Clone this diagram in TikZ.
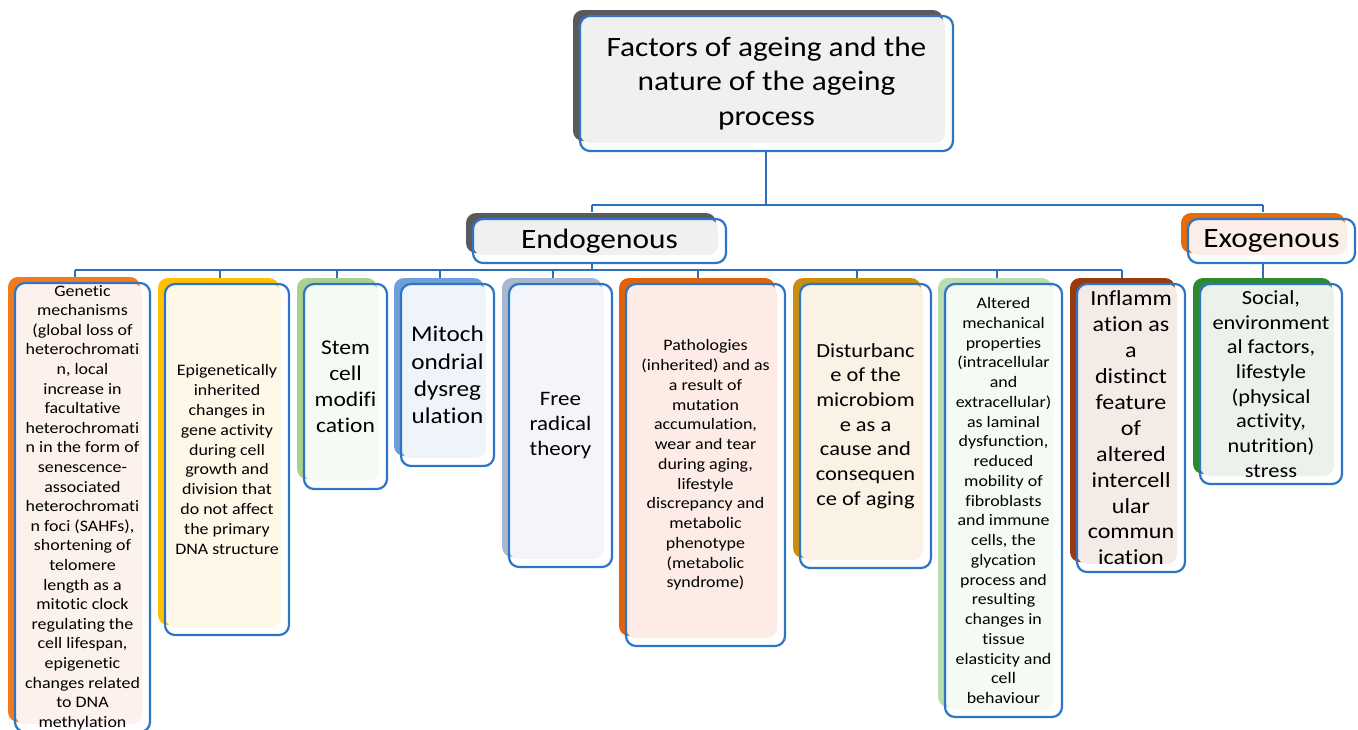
\documentclass[tikz,border=0pt]{standalone}
\usepackage{fontspec}
\setmainfont{Carlito}[FakeStretch=1.12, Ligatures=NoCommon]
\definecolor{bl}{RGB}{46,117,198}
\definecolor{ln}{RGB}{46,111,186}
\definecolor{tS}{HTML}{5A5A5A}\definecolor{tF}{HTML}{F0F0F0}
\definecolor{exS}{HTML}{E46C0A}\definecolor{exF}{HTML}{FCEEE7}
\definecolor{geS}{HTML}{F47A20}\definecolor{geF}{HTML}{FDF1EB}
\definecolor{epS}{HTML}{FFC000}\definecolor{epF}{HTML}{FFF8E8}
\definecolor{stS}{HTML}{A9D18E}\definecolor{stF}{HTML}{F6FAF4}
\definecolor{miS}{HTML}{6F9FD8}\definecolor{miF}{HTML}{EFF3FA}
\definecolor{frS}{HTML}{A9B8CE}\definecolor{frF}{HTML}{F3F5FA}
\definecolor{paS}{HTML}{E2620A}\definecolor{paF}{HTML}{FCECE5}
\definecolor{diS}{HTML}{C98E0B}\definecolor{diF}{HTML}{FBF2E6}
\definecolor{alS}{HTML}{B7DDB1}\definecolor{alF}{HTML}{F5FAF4}
\definecolor{inS}{HTML}{9A3A0C}\definecolor{inF}{HTML}{F5EBE6}
\definecolor{soS}{HTML}{2F8A2F}\definecolor{soF}{HTML}{EDF1EB}
\tikzset{
  boxborder/.style={draw=bl, line width=2.2pt, rounded corners=10pt, inner sep=0pt, align=center, text=black},
  conn/.style={draw=ln, line width=2pt},
}
\newcommand\mybox[9]{%
  \fill[#6, rounded corners=10pt] (#2-7,#3-6) rectangle (#4-10,#5-10);
  \fill[#7, rounded corners=10pt] (#2,#3) rectangle (#4-8,#5-8);
  \node[boxborder, minimum width=#4-#2, minimum height=#5-#3, font=#8] (#1) at ({(#2+#4)/2},{(#3+#5)/2}) {#9};
}
\newcommand\fs[2]{\fontsize{#1}{#2}\selectfont}
\begin{document}
\begin{tikzpicture}[x=1pt,y=-1pt]
\useasboundingbox (0,0) rectangle (1358,729);
% connectors
\coordinate (busTopL) at (592,205);
\coordinate (busTopR) at (1263,205);
\coordinate (endoIn) at (592,212);
\coordinate (exoIn) at (1263,212);
\coordinate (busL) at (75,270);
\coordinate (busR) at (1122,270);
\foreach \n/\x in {c1/75,c2/220,c3/337,c4/440,c5/553,c6/698,c7/857,c8/997,c9/1122}{
  \coordinate (\n) at (\x,279);
  \coordinate (\n b) at (\x,270);
}
\coordinate (c10) at (1263,279);
\draw[conn] (766,151) coordinate (tS) -- (766,205) coordinate (tJ);
\draw[conn] (busTopL) -- (busTopR);
\draw[conn] (busTopL) -- (endoIn);
\draw[conn] (busTopR) -- (exoIn);
\draw[conn] (592,263) coordinate (eS) -- (592,270);
\draw[conn] (busL) -- (busR);
\foreach \n in {c1,c2,c3,c4,c5,c6,c7,c8,c9}{\draw[conn] (\n b) -- (\n);}
\draw[conn] (1263,263) coordinate (xS) -- (c10);
% boxes
\mybox{title}{580}{16}{953}{151}{tS}{tF}{\fs{28}{34.5}}{Factors of ageing and the\\nature of the ageing\\process}
\mybox{endo}{473}{219}{726}{263}{tS}{tF}{\fs{28}{34}}{Endogenous}
\mybox{exo}{1188}{219}{1355}{263}{exS}{exF}{\fs{28}{34}}{Exogenous}
\mybox{gen}{15}{283}{150}{732}{geS}{geF}{\fs{16}{19.6}}{Genetic\\mechanisms\\(global loss of\\heterochromati\\n, local\\increase in\\facultative\\heterochromati\\n in the form of\\senescence-\\associated\\heterochromati\\n foci (SAHFs),\\shortening of\\telomere\\length as a\\mitotic clock\\regulating the\\cell lifespan,\\epigenetic\\changes related\\to DNA\\methylation}
\mybox{epi}{165}{284}{289}{635}{epS}{epF}{\fs{16}{19.8}}{Epigenetically\\inherited\\changes in\\gene activity\\during cell\\growth and\\division that\\do not affect\\the primary\\DNA structure}
\mybox{stem}{304}{284}{387}{489}{stS}{stF}{\fs{21}{26}}{Stem\\cell\\modifi\\cation}
\mybox{mito}{401}{284}{494}{466}{miS}{miF}{\fs{22.5}{27.3}}{Mitoch\\ondrial\\dysreg\\ulation}
\mybox{free}{509}{284}{612}{567}{frS}{frF}{\fs{20.5}{25}}{Free\\radical\\theory}
\mybox{pat}{626}{284}{785}{646}{paS}{paF}{\fs{16}{19.75}}{Pathologies\\(inherited) and as\\a result of\\mutation\\accumulation,\\wear and tear\\during aging,\\lifestyle\\discrepancy and\\metabolic\\phenotype\\(metabolic\\syndrome)}
\mybox{dis}{800}{284}{931}{568}{diS}{diF}{\fs{20}{24.7}}{Disturbanc\\e of the\\microbiom\\e as a\\cause and\\consequen\\ce of aging}
\mybox{alt}{945}{284}{1062}{717}{alS}{alF}{\fs{16}{19.75}}{Altered\\mechanical\\properties\\(intracellular\\and\\extracellular)\\as laminal\\dysfunction,\\reduced\\mobility of\\fibroblasts\\and immune\\cells, the\\glycation\\process and\\resulting\\changes in\\tissue\\elasticity and\\cell\\behaviour}
\mybox{inf}{1077}{284}{1185}{572}{inS}{inF}{\fs{21.5}{25.9}}{Inflamm\\ation as\\a\\distinct\\feature\\of\\altered\\intercell\\ular\\commun\\ication}
\mybox{soc}{1200}{284}{1342}{484}{soS}{soF}{\fs{20}{24.7}}{Social,\\environment\\al factors,\\lifestyle\\(physical\\activity,\\nutrition)\\stress}
\end{tikzpicture}
\end{document}
